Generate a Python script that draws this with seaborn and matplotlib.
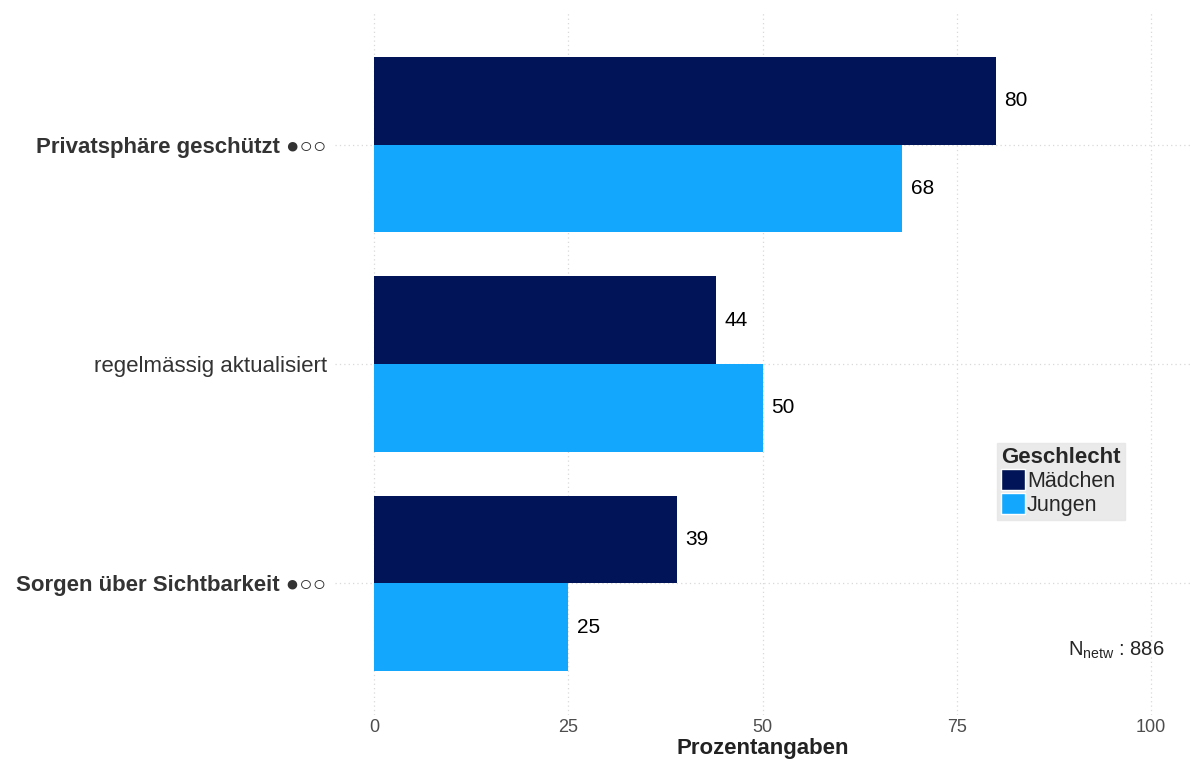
import numpy as np
import pandas as pd
import matplotlib
matplotlib.use("Agg")
import matplotlib.pyplot as plt
import seaborn as sns
from matplotlib.patches import Patch

categories = ["Privatsphäre geschützt ●○○", "regelmässig aktualisiert", "Sorgen über Sichtbarkeit ●○○"]
bold_labels = [True, False, True]
maedchen = [80, 44, 39]
jungen = [68, 50, 25]
groups = ["Mädchen", "Jungen"]
colors = ["#001457", "#13a8fe"]
xticks = [0, 25, 50, 75, 100]

df = pd.DataFrame({
    "kategorie": categories * 2,
    "wert": maedchen + jungen,
    "Geschlecht": [groups[0]] * 3 + [groups[1]] * 3,
})

sns.set_style("white")
plt.rcParams["font.family"] = ["Liberation Sans", "DejaVu Sans"]
plt.rcParams["mathtext.fontset"] = "custom"
plt.rcParams["mathtext.rm"] = "Liberation Sans"

fig = plt.figure(figsize=(11.9, 7.6), dpi=100)
ax = fig.add_axes([335 / 1190, 1 - 715 / 760, 1 - 335 / 1190, (715 - 13) / 760])

sns.barplot(data=df, y="kategorie", x="wert", hue="Geschlecht", order=categories,
            hue_order=groups, palette=colors, width=0.8, saturation=1,
            orient="h", ax=ax, legend=False, errorbar=None, linewidth=0)

for cont in ax.containers:
    ax.bar_label(cont, fmt="%d", padding=6, fontsize=15, color="black")

ax.set_xlim(-5, 105)
ax.set_ylim(2.6, -0.6)
ax.set_xticks(xticks)
ax.set_xticklabels([str(t) for t in xticks], fontsize=13, color="#4d4d4d",
                   family=["Liberation Sans Narrow", "Liberation Sans"])
ax.tick_params(axis="x", length=0, pad=3)
ax.tick_params(axis="y", length=0, pad=6)
ax.set_yticks(range(len(categories)))
ax.set_yticklabels(categories, fontsize=16, color="#333333")
for lab, b in zip(ax.get_yticklabels(), bold_labels):
    lab.set_fontweight("bold" if b else "normal")
ax.set_ylabel("")
ax.set_xlabel("Prozentangaben", fontsize=16, fontweight="bold", color="#222222", labelpad=1)

ax.grid(True, axis="both", color="#d9d9d9", linestyle=(0, (1, 2.5)), linewidth=0.9)
ax.set_axisbelow(True)
for s in ax.spines.values():
    s.set_visible(False)

handles = [Patch(facecolor=c, edgecolor="white", label=g) for g, c in zip(groups, colors)]
leg = ax.legend(handles=handles, title="Geschlecht", loc="upper left",
                bbox_to_anchor=(0.774, 0.3875), fontsize=15.5, frameon=True,
                fancybox=False, handlelength=1.1, handleheight=1.1,
                handletextpad=0.1, labelspacing=0.05, borderpad=0.2,
                borderaxespad=0)
leg.get_title().set_fontweight("bold")
leg.get_title().set_fontsize(16)
leg._legend_box.align = "left"
leg.get_frame().set_facecolor("#e5e5e5")
leg.get_frame().set_edgecolor("#e5e5e5")

fig.text(1068 / 1190, 1 - 650 / 760, r"N$_{\mathrm{netw}}$ : 886", fontsize=14.5,
         va="center", ha="left")

fig.savefig("out.png", dpi=100)
